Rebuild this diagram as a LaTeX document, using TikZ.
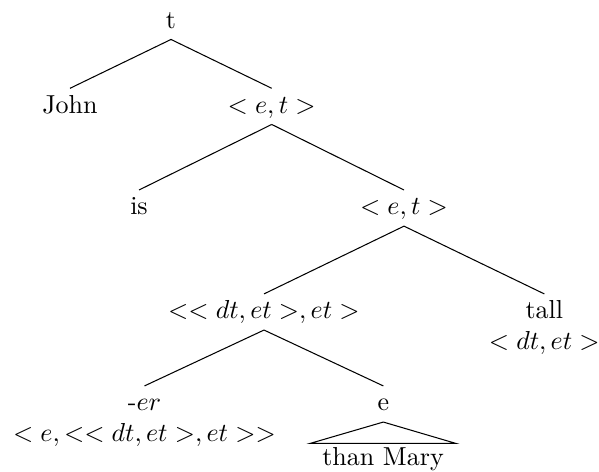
\documentclass[tikz,border=0pt]{standalone}
\usepackage{amsmath}
\usetikzlibrary{positioning}

\begin{document}
\begin{tikzpicture}[
    x=0.3846pt, y=-0.3846pt,
    treenode/.style={inner sep=0pt, anchor=base, align=center, text height=9.3pt, text depth=4.2pt},
    twoline/.style={treenode, text height=21.3pt},
    roofleaf/.style={inner ysep=0pt, inner xsep=4.5pt, anchor=base, text height=8.1pt, text depth=2pt},
    branch/.style={line width=0.4pt, draw=black}
  ]
    \useasboundingbox (0,0) rectangle (599,471);

    % Nodes (Row 0)
    \node[treenode] (root) at (171,28) {t};

    % Nodes (Row 1)
    \node[treenode] (john) at (70,113) {John};
    \node[treenode] (vp) at (271.7,113) {$<e,t>$};

    % Nodes (Row 2)
    \node[treenode] (is) at (139,214.7) {is};
    \node[treenode] (pred) at (404,214.7) {$<e,t>$};

    % Nodes (Row 3)
    \node[treenode] (deg) at (264,318.6) {$<<dt,et>,et>$};
    \node[twoline] (tall) at (544.3,349.8) {tall\\$<dt,et>$};

    % Nodes (Row 4)
    \node[twoline] (er) at (144.5,441.8) {-$er$\\$<e,<<dt,et>,et>>$};
    \node[treenode] (e) at (383.3,410.6) {e};
    \node[roofleaf] (mary) at (383,465) {than Mary};

    % Connections
    \draw[branch] (root.south) -- (john.north);
    \draw[branch] (root.south) -- (vp.north);
    \draw[branch] (vp.south) -- (is.north);
    \draw[branch] (vp.south) -- (pred.north);
    \draw[branch] (pred.south) -- (deg.north);
    \draw[branch] (pred.south) -- (tall.north);
    \draw[branch] (deg.south) -- (er.north);
    \draw[branch] (deg.south) -- (e.north);
    \draw[branch] (e.south) -- (mary.north west) -- (mary.north east) -- cycle;

\end{tikzpicture}
\end{document}
